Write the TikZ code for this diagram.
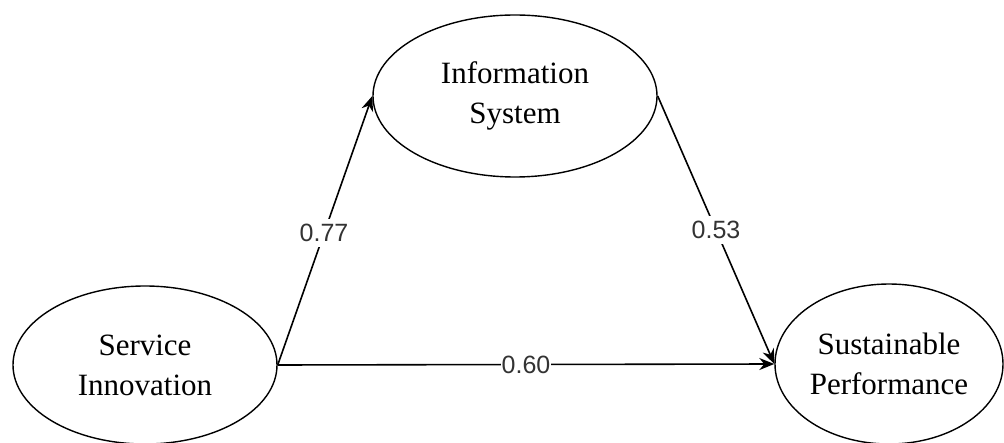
\documentclass[tikz,border=0pt]{standalone}
\usepackage{fontspec}
\setmainfont{Liberation Serif}
\newfontfamily\labelfont{Liberation Sans}
\usetikzlibrary{shapes.geometric,arrows.meta}
\tikzset{
  construct/.style={ellipse, draw, line width=1.4pt, inner sep=0pt, align=center,
    font=\fontsize{31}{40}\selectfont},
  path/.style={line width=1.6pt, -{Stealth[length=15pt,width=12pt]}},
  coef/.style={fill=white, inner xsep=1pt, inner ysep=5pt, text=black!80,
    font=\labelfont\fontsize{25}{27}\selectfont}
}
\begin{document}
\begin{tikzpicture}[x=1pt,y=-1pt]
\useasboundingbox (0,0) rectangle (1004,443);
\node[construct, minimum width=264pt, minimum height=158pt] (si) at (145,365) {Service\\Innovation};
\node[construct, minimum width=284pt, minimum height=162pt] (is) at (515,96) {Information\\System};
\node[construct, minimum width=228pt, minimum height=160pt] (sp) at (889,364) {Sustainable\\Performance};
\draw[path] (si.east) -- node[coef, pos=0.49] {0.77} (is.west);
\draw[path] (is.east) -- node[coef, pos=0.5] {0.53} (sp.west);
\draw[path] (si.east) -- node[coef, pos=0.5, inner ysep=1pt] {0.60} (sp.west);
\end{tikzpicture}
\end{document}
